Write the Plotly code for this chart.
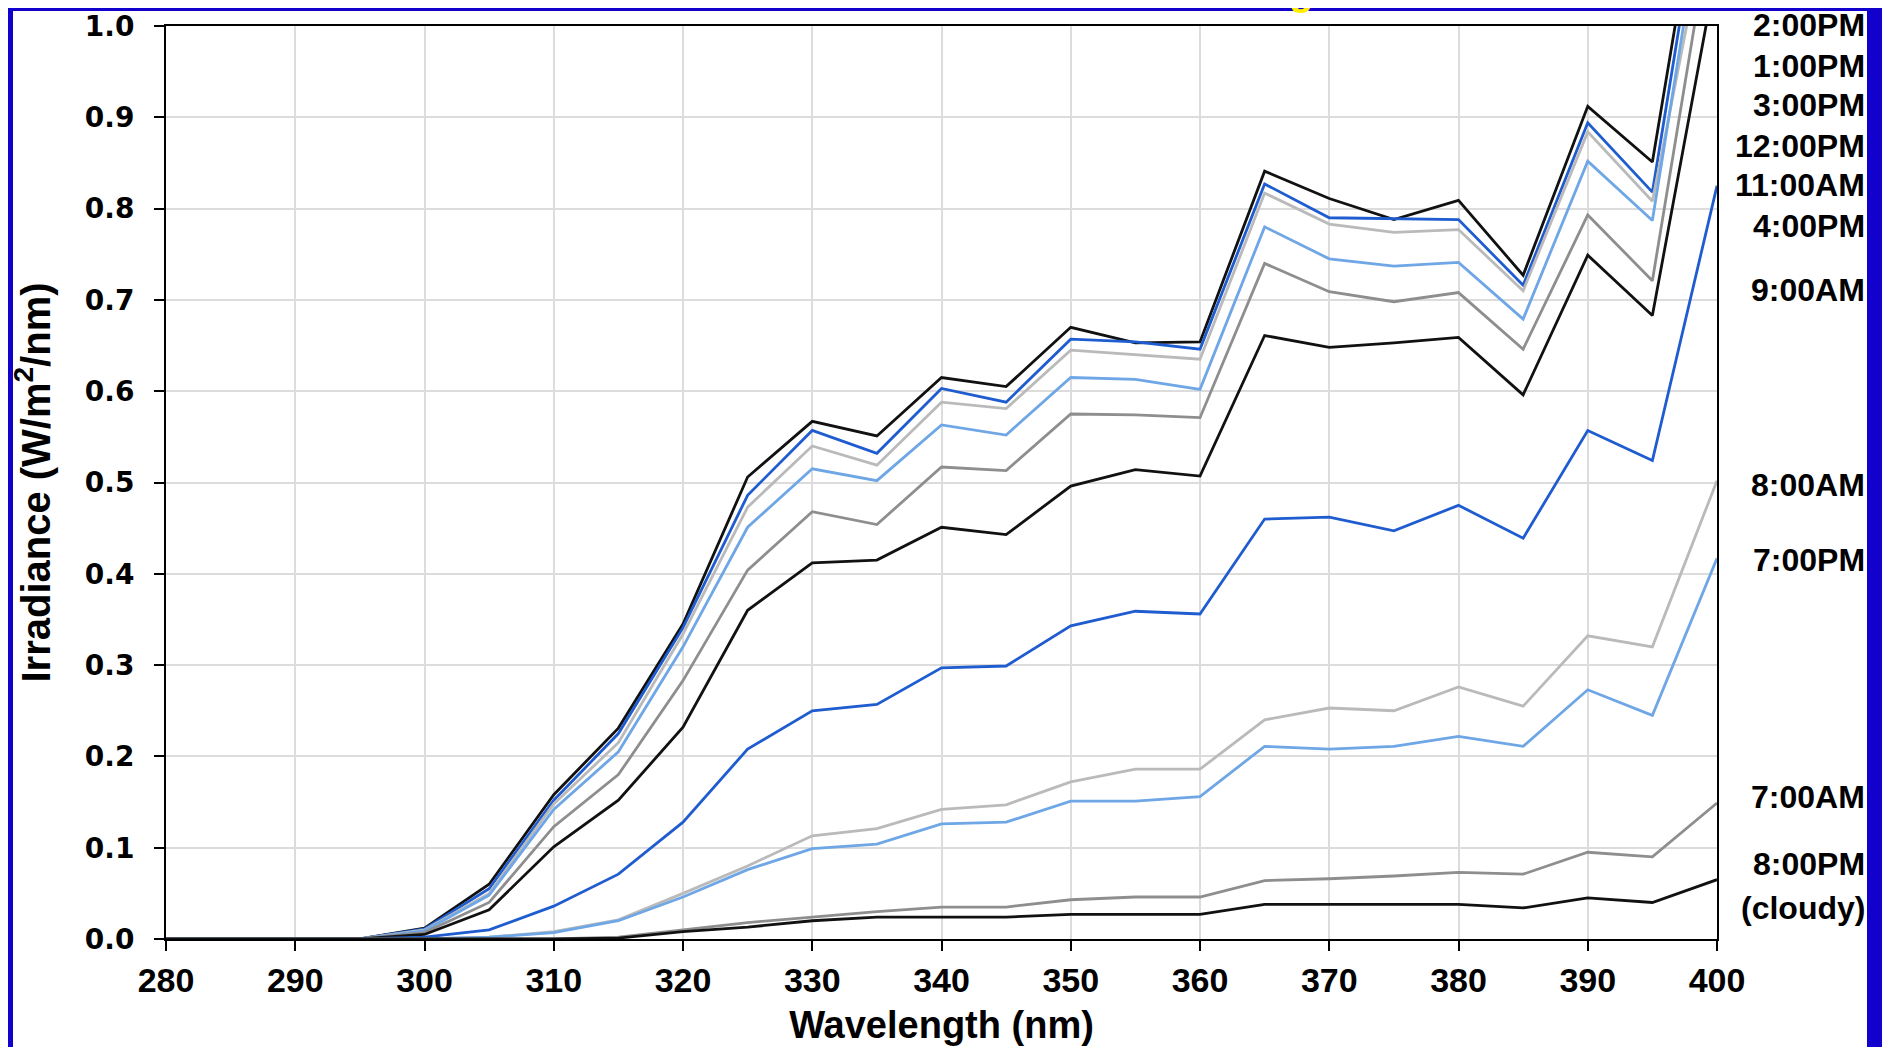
import plotly.graph_objects as go

wavelength = [280, 285, 290, 295, 300, 305, 310, 315, 320, 325, 330, 335, 340,
              345, 350, 355, 360, 365, 370, 375, 380, 385, 390, 395, 400]

s_2pm = [0, 0, 0, 0, 0.012, 0.060, 0.158, 0.231, 0.345, 0.506, 0.567, 0.551, 0.615, 0.605, 0.670, 0.653, 0.654, 0.841, 0.811, 0.788, 0.809, 0.727, 0.912, 0.851, 1.275]
s_1pm = [0, 0, 0, 0, 0.011, 0.055, 0.152, 0.225, 0.341, 0.486, 0.557, 0.532, 0.603, 0.588, 0.657, 0.654, 0.646, 0.827, 0.790, 0.789, 0.788, 0.716, 0.894, 0.818, 1.255]
s_3pm = [0, 0, 0, 0, 0.010, 0.050, 0.148, 0.215, 0.334, 0.473, 0.540, 0.519, 0.588, 0.581, 0.645, 0.640, 0.635, 0.817, 0.783, 0.774, 0.777, 0.710, 0.884, 0.808, 1.17]
s_12pm = [0, 0, 0, 0, 0.009, 0.048, 0.142, 0.205, 0.320, 0.451, 0.515, 0.502, 0.563, 0.552, 0.615, 0.613, 0.602, 0.780, 0.745, 0.737, 0.741, 0.679, 0.852, 0.787, 1.23]
s_11am = [0, 0, 0, 0, 0.007, 0.040, 0.123, 0.180, 0.283, 0.404, 0.468, 0.454, 0.517, 0.513, 0.575, 0.574, 0.571, 0.740, 0.709, 0.698, 0.708, 0.646, 0.793, 0.721, 1.15]
s_4pm = [0, 0, 0, 0, 0.005, 0.032, 0.101, 0.152, 0.232, 0.360, 0.412, 0.415, 0.451, 0.443, 0.496, 0.514, 0.507, 0.661, 0.648, 0.653, 0.659, 0.596, 0.749, 0.683, 1.065]
s_9am = [0, 0, 0, 0, 0.002, 0.010, 0.036, 0.071, 0.128, 0.208, 0.250, 0.257, 0.297, 0.299, 0.343, 0.359, 0.356, 0.460, 0.462, 0.447, 0.475, 0.439, 0.557, 0.524, 0.825]
s_8am = [0, 0, 0, 0, 0, 0.002, 0.008, 0.021, 0.050, 0.080, 0.113, 0.121, 0.142, 0.147, 0.172, 0.186, 0.186, 0.240, 0.253, 0.250, 0.276, 0.255, 0.332, 0.320, 0.502]
s_7pm = [0, 0, 0, 0, 0, 0.002, 0.007, 0.020, 0.046, 0.076, 0.099, 0.104, 0.126, 0.128, 0.151, 0.151, 0.156, 0.211, 0.208, 0.211, 0.222, 0.211, 0.273, 0.245, 0.417]
s_7am = [0, 0, 0, 0, 0, 0, 0, 0.002, 0.010, 0.018, 0.024, 0.030, 0.035, 0.035, 0.043, 0.046, 0.046, 0.064, 0.066, 0.069, 0.073, 0.071, 0.095, 0.090, 0.149]
s_8pm = [0, 0, 0, 0, 0, 0, 0, 0.001, 0.008, 0.013, 0.020, 0.024, 0.024, 0.024, 0.027, 0.027, 0.027, 0.038, 0.038, 0.038, 0.038, 0.034, 0.045, 0.040, 0.065]

series_names = ["2:00PM", "1:00PM", "3:00PM", "12:00PM", "11:00AM", "4:00PM",
                "9:00AM", "8:00AM", "7:00PM", "7:00AM", "8:00PM (cloudy)"]
series_values = [s_2pm, s_1pm, s_3pm, s_12pm, s_11am, s_4pm,
                 s_9am, s_8am, s_7pm, s_7am, s_8pm]

# right-hand labels and the irradiance level at which each is printed
label_texts = ["2:00PM", "1:00PM", "3:00PM", "12:00PM", "11:00AM", "4:00PM",
               "9:00AM", "8:00AM", "7:00PM", "7:00AM", "8:00PM", "(cloudy)"]
label_levels = [1.001, 0.956, 0.913, 0.869, 0.826, 0.781,
                0.711, 0.497, 0.415, 0.156, 0.082, 0.034]

BLACK = "#111111"
BLUE = "#1f5ccf"
LGRAY = "#bababa"
LBLUE = "#6ea6e6"
GRAY = "#8e8e8e"
colors = [BLACK, BLUE, LGRAY, LBLUE, GRAY, BLACK, BLUE, LGRAY, LBLUE, GRAY, BLACK]

W, H = 1890, 1047
OFF = 7  # page offset of the figure inside the browser window
L, R, T, B = 165 - OFF, 1716 - OFF, 25 - OFF, 938 - OFF
pw, ph = R - L, B - T


def px(X):
    return (X - OFF - L) / pw


def py(Y):
    return (B - (Y - OFF)) / ph


fig = go.Figure()
for name, vals, col in zip(series_names, series_values, colors):
    fig.add_trace(go.Scatter(x=wavelength, y=vals, mode="lines", name=name,
                             line=dict(color=col, width=2.8), showlegend=False))

SANS = "Liberation Sans, Arial, sans-serif"

annotations = []
for txt, lev in zip(label_texts, label_levels):
    annotations.append(dict(x=px(1866), xref="paper", y=lev, yref="paper",
                            text=txt, showarrow=False, xanchor="right", yanchor="middle",
                            font=dict(family=SANS, size=32, color="black", weight="bold")))
# fragment of the slide title peeking in at the top
annotations.append(dict(x=px(1300), xref="paper", y=py(14), yref="paper",
                        text="g", showarrow=False, xanchor="center", yanchor="bottom",
                        font=dict(family=SANS, size=40, color="#ffee00", weight="bold")))

fig.update_layout(
    width=W, height=H,
    margin=dict(l=L, r=W - R, t=T, b=H - B, pad=0),
    paper_bgcolor="#1200cc",
    plot_bgcolor="white",
    annotations=annotations,
    shapes=[dict(type="rect", xref="paper", yref="paper", layer="below",
                 x0=px(12), x1=px(1866), y0=py(1080), y1=py(10),
                 fillcolor="white", line=dict(width=0))],
    xaxis=dict(
        range=[280, 400], tickmode="array", automargin=False,
        tickvals=[280, 290, 300, 310, 320, 330, 340, 350, 360, 370, 380, 390, 400],
        showgrid=True, gridcolor="#dcdcdc", gridwidth=1.5,
        showline=True, linecolor="black", linewidth=2, mirror=True,
        ticks="outside", ticklen=10, tickwidth=1.5, tickcolor="black",
        tickfont=dict(family=SANS, size=34, color="black", weight="bold"),
        ticklabelstandoff=0,
        zeroline=False,
        title=dict(text="Wavelength (nm)", standoff=14,
                   font=dict(family=SANS, size=38, color="black", weight="bold")),
    ),
    yaxis=dict(
        range=[0, 1.0], tickmode="array", automargin=False,
        tickvals=[0, 0.1, 0.2, 0.3, 0.4, 0.5, 0.6, 0.7, 0.8, 0.9, 1.0],
        ticktext=["0.0", "0.1", "0.2", "0.3", "0.4", "0.5", "0.6", "0.7", "0.8", "0.9", "1.0"],
        showgrid=True, gridcolor="#dcdcdc", gridwidth=1.5,
        showline=True, linecolor="black", linewidth=2, mirror=True,
        ticks="outside", ticklen=10, tickwidth=1.5, tickcolor="black",
        tickfont=dict(family="DejaVu Sans, sans-serif", size=28, color="black", weight="bold"),
        ticklabelstandoff=14,
        zeroline=False,
        title=dict(text="Irradiance (W/m<sup>2</sup>/nm)", standoff=26,
                   font=dict(family=SANS, size=40, color="black", weight="bold")),
    ),
)

fig.write_html("out.html")
